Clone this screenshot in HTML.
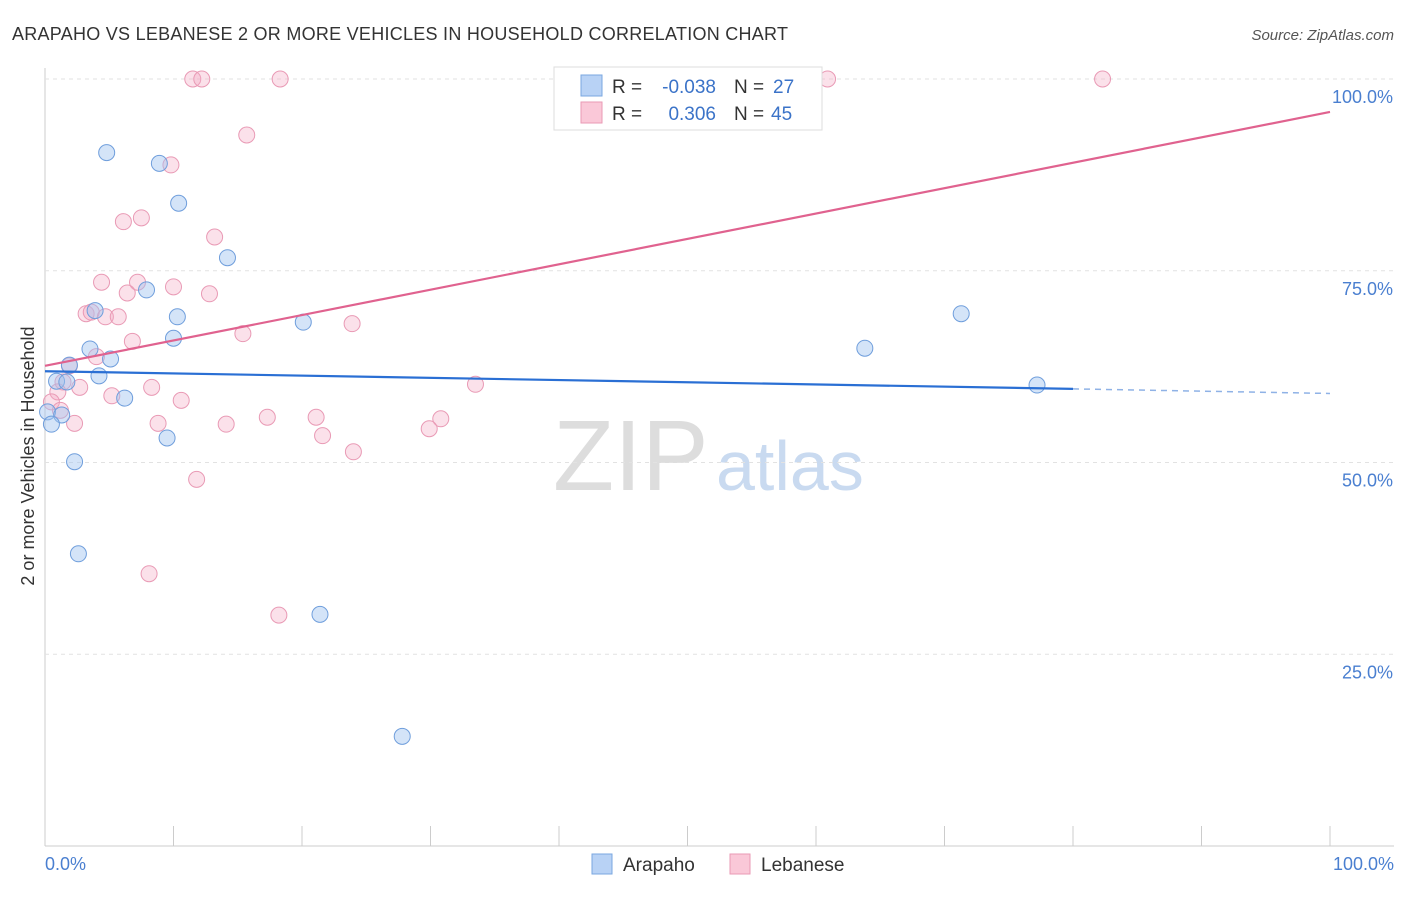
<!DOCTYPE html>
<html><head><meta charset="utf-8"><style>
body{margin:0;background:#fff;font-family:"Liberation Sans",sans-serif}
svg text{font-family:"Liberation Sans",sans-serif}
</style></head><body>
<svg id="c" width="1406" height="892" xmlns="http://www.w3.org/2000/svg">
<text x="12" y="40" font-size="18" fill="#333" textLength="776">ARAPAHO VS LEBANESE 2 OR MORE VEHICLES IN HOUSEHOLD CORRELATION CHART</text>
<text x="1394" y="40" font-size="15" fill="#555" text-anchor="end" font-style="italic">Source: ZipAtlas.com</text>
<text x="553" y="490" font-size="100" fill="#ddd" font-family="Liberation Serif">ZIP</text>
<text x="716" y="490" font-size="70" fill="#c9daf0">atlas</text>
<g id="grid"></g><g id="pts"></g><g id="trend"></g>
<text transform="translate(34,456) rotate(-90)" font-size="18" fill="#333" text-anchor="middle">2 or more Vehicles in Household</text>
<text x="45" y="870" font-size="18" fill="#4a7fd0">0.0%</text>
<text x="1394" y="870" font-size="18" fill="#4a7fd0" text-anchor="end">100.0%</text>
<g>
<rect x="554" y="67" width="268" height="63" fill="#fff" stroke="#ddd"/>
<rect x="581" y="75" width="21" height="21" fill="#b8d2f5" stroke="#7aa7e0"/>
<rect x="581" y="102" width="21" height="21" fill="#fac8d8" stroke="#e99ab5"/>
<text x="612" y="93" font-size="19" fill="#333">R =</text>
<text x="716" y="93" font-size="19" fill="#3b73c8" text-anchor="end">-0.038</text>
<text x="734" y="93" font-size="19" fill="#333">N =</text>
<text x="773" y="93" font-size="19" fill="#3b73c8">27</text>
<text x="612" y="120" font-size="19" fill="#333">R =</text>
<text x="716" y="120" font-size="19" fill="#3b73c8" text-anchor="end">0.306</text>
<text x="734" y="120" font-size="19" fill="#333">N =</text>
<text x="771" y="120" font-size="19" fill="#3b73c8">45</text>
</g>
<g>
<rect x="592" y="854" width="20" height="20" fill="#b8d2f5" stroke="#7aa7e0"/>
<text x="623" y="871" font-size="19" fill="#333">Arapaho</text>
<rect x="730" y="854" width="20" height="20" fill="#fac8d8" stroke="#e99ab5"/>
<text x="761" y="871" font-size="19" fill="#333">Lebanese</text>
</g>
</svg>
<script>
const arapahoX=[4.8,8.9,10.4,14.2,7.9,3.9,10.3,10.0,20.1,3.5,5.1,1.9,0.9,1.7,4.2,6.2,0.2,1.3,0.5,9.5,2.3,2.6,21.4,27.8,63.8,71.3,77.2];
const arapahoY=[90.4,89.0,83.8,76.7,72.5,69.8,69.0,66.2,68.3,64.8,63.5,62.7,60.6,60.5,61.3,58.4,56.6,56.2,55.0,53.2,50.1,38.1,30.2,14.3,64.9,69.4,60.1];
const lebaneseX=[11.5,12.2,18.3,60.9,82.3,15.7,9.8,6.1,7.5,13.2,4.4,7.2,6.4,10.0,12.8,3.2,3.6,4.7,5.7,6.8,15.4,23.9,4.0,1.9,1.4,2.7,1.0,5.2,8.3,10.6,33.5,0.5,1.2,2.3,8.8,14.1,17.3,21.1,21.6,30.8,29.9,24.0,11.8,8.1,18.2];
const lebaneseY=[100,100,100,100,100,92.7,88.8,81.4,81.9,79.4,73.5,73.5,72.1,72.9,72.0,69.4,69.6,69.0,69.0,65.8,66.8,68.1,63.8,62.6,60.5,59.8,59.2,58.7,59.8,58.1,60.2,57.9,56.8,55.1,55.1,55.0,55.9,55.9,53.5,55.7,54.4,51.4,47.8,35.5,30.1];
const yTicks=[25,50,75,100];
const yTickLabels=["25.0%","50.0%","75.0%","100.0%"];
const xTicks=[0,10,20,30,40,50,60,70,80,90,100];
const arapahoTrend=[61.9,59.6,59.0]; // at x=0, 80, 100
const lebaneseTrend=[62.6,95.7];     // at x=0, 100
const NS='http://www.w3.org/2000/svg';
const X=v=>45+v*12.85, Y=v=>846-v*7.67;
function mk(t,a,p){const e=document.createElementNS(NS,t);for(const k in a)e.setAttribute(k,a[k]);p.appendChild(e);return e;}
const g=document.getElementById('grid');
mk('line',{x1:45,y1:68,x2:45,y2:846,stroke:'#ccc'},g);
mk('line',{x1:45,y1:846,x2:1394,y2:846,stroke:'#ccc'},g);
yTicks.forEach((t,i)=>{
 const l=mk('line',{x1:45,y1:Y(t),x2:1394,y2:Y(t),stroke:'#e2e2e2','stroke-dasharray':'4,4'},g);
 
 
 const tx=mk('text',{x:1393,y:Y(t)+24,'font-size':18,fill:'#4a7fd0','text-anchor':'end'},g);
 tx.textContent=yTickLabels[i];
 
 
});
xTicks.forEach(t=>{
 const l=mk('line',{x1:X(t),y1:826,x2:X(t),y2:846,stroke:'#ccc'},g);
 
 
});
const p=document.getElementById('pts');
function pts(xs,ys,fill,stroke,name){xs.forEach((x,i)=>{
 const c=mk('circle',{cx:X(x),cy:Y(ys[i]),r:8,fill:fill,stroke:stroke,'stroke-width':1},p);
 
 
});}
pts(lebaneseX,lebaneseY,'rgba(244,170,195,0.35)','#e99ab5','lebanese-point');
pts(arapahoX,arapahoY,'rgba(160,196,240,0.45)','#6f9edc','arapaho-point');
const tr=document.getElementById('trend');
let l1=mk('line',{x1:X(0),y1:Y(arapahoTrend[0]),x2:X(80),y2:Y(arapahoTrend[1]),stroke:'#2a6fd4','stroke-width':2.2},tr);


let l2=mk('line',{x1:X(80),y1:Y(arapahoTrend[1]),x2:X(100),y2:Y(arapahoTrend[2]),stroke:'#8fb2e6','stroke-width':1.5,'stroke-dasharray':'6,5'},tr);


let l3=mk('line',{x1:X(0),y1:Y(lebaneseTrend[0]),x2:X(100),y2:Y(lebaneseTrend[1]),stroke:'#e0628f','stroke-width':2.2},tr);


</script>
</body></html>
